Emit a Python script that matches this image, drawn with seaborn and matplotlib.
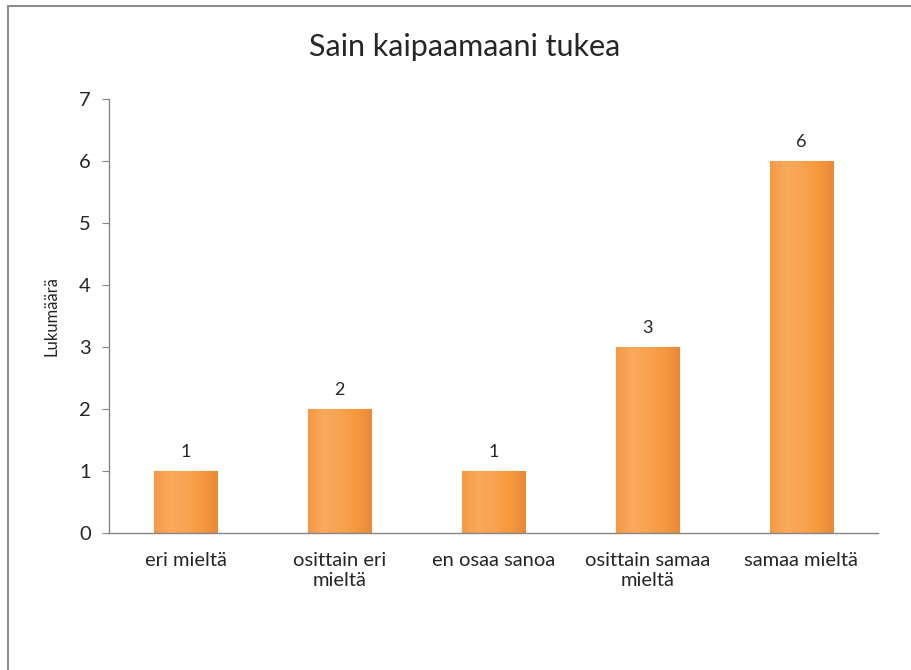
import numpy as np
import pandas as pd
import matplotlib
matplotlib.use("Agg")
import matplotlib.pyplot as plt
import matplotlib.lines as mlines
import seaborn as sns

categories = ["eri mieltä", "osittain eri\nmieltä", "en osaa sanoa", "osittain samaa\nmieltä", "samaa mieltä"]
counts = [1, 2, 1, 3, 6]
title = "Sain kaipaamaani tukea"
ylabel = "Lukumäärä"

sns.set_style("white")
plt.rcParams["font.family"] = ["Lato", "DejaVu Sans"]

df = pd.DataFrame({"vastaus": categories, "lkm": counts})

fig = plt.figure(figsize=(9.11, 6.70), dpi=100)
ax = fig.add_axes([0.1197, 0.2045, 0.844, 0.6478])

sns.barplot(data=df, x="vastaus", y="lkm", color="#F79646", width=0.41,
            edgecolor="#D9823C", linewidth=0.8, ax=ax)

# gradient fill inside each bar
grad = np.linspace(0, 1, 64).reshape(1, -1)
cmap = matplotlib.colors.LinearSegmentedColormap.from_list(
    "bev", ["#F59A48", "#FBA95C", "#F9A352", "#F6993F", "#E88A3A"])
for p in ax.patches:
    x0, y0 = p.get_x(), p.get_y()
    im = ax.imshow(grad, extent=[x0, x0 + p.get_width(), y0, y0 + p.get_height()],
                   aspect="auto", cmap=cmap, zorder=p.get_zorder(), origin="lower")
    im.set_clip_path(p)

ax.set_xlim(-0.5, len(categories) - 0.5)
ax.set_ylim(0, 7)
ax.set_yticks(range(0, 8))
ax.bar_label(ax.containers[0], labels=[str(v) for v in counts], padding=8, fontsize=13)

# title is centred on the whole chart area, not on the plot
ax.set_title(title, fontsize=22, pad=31, x=0.463)
ax.set_xlabel("")
ax.set_ylabel(ylabel, fontsize=12, labelpad=14)

for s in ["top", "right"]:
    ax.spines[s].set_visible(False)
for s in ["left", "bottom"]:
    ax.spines[s].set_color("#868686")
    ax.spines[s].set_linewidth(1.0)

ax.set_xticks(range(len(categories)))
ax.set_xticklabels(categories, multialignment="center")
ax.tick_params(axis="x", which="major", length=0, labelsize=14.5, pad=14)
ax.set_xticks(np.arange(-0.5, len(categories)), minor=True)
ax.tick_params(axis="x", which="minor", length=6, color="#868686", direction="out")
ax.tick_params(axis="y", length=5, color="#868686", labelsize=14.5, pad=8, direction="out", left=True)

# chart area border
fig.add_artist(mlines.Line2D([8 / 911, 1], [1 - 6 / 670, 1 - 6 / 670], color="#8C8C8C", lw=1.5))
fig.add_artist(mlines.Line2D([8 / 911, 8 / 911], [0, 1 - 6 / 670], color="#8C8C8C", lw=1.5))

fig.savefig("out.png", dpi=100)
